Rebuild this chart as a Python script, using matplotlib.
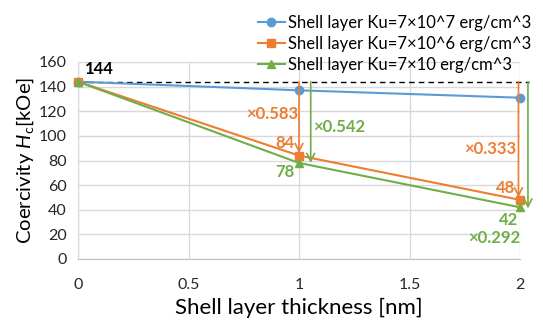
import matplotlib
matplotlib.use("Agg")
import matplotlib.pyplot as plt

plt.rcParams['font.family'] = ['Lato', 'DejaVu Sans']
plt.rcParams['mathtext.fontset'] = 'custom'
plt.rcParams['mathtext.it'] = 'Lato:italic'
plt.rcParams['mathtext.rm'] = 'Lato'

thickness = [0, 1, 2]
ku7 = [144, 137, 131]
ku6 = [144, 84, 48]
ku1 = [144, 78, 42]
labels = ["Shell layer Ku=7×10^7 erg/cm^3",
          "Shell layer Ku=7×10^6 erg/cm^3",
          "Shell layer Ku=7×10 erg/cm^3"]
ratio6 = ["×0.583", "×0.333"]
ratio1 = ["×0.542", "×0.292"]

BLUE = "#5B9BD5"
ORANGE = "#ED7D31"
GREEN = "#70AD47"

fig = plt.figure(figsize=(5.43, 3.2), dpi=100)
ax = fig.add_axes([78/543, 1-259/320, (520-78)/543, (259-62)/320])

ax.plot(thickness, ku7, color=BLUE, marker='o', ms=6, lw=1.5, label=labels[0], clip_on=False, zorder=5)
ax.plot(thickness, ku6, color=ORANGE, marker='s', ms=6, lw=1.5, label=labels[1], clip_on=False, zorder=5)
ax.plot(thickness, ku1, color=GREEN, marker='^', ms=6, lw=1.5, label=labels[2], clip_on=False, zorder=5)

ax.set_xlim(0, 2)
ax.set_ylim(0, 160)
ax.set_xticks([0, 0.5, 1, 1.5, 2])
ax.set_xticklabels(["0", "0.5", "1", "1.5", "2"])
ax.set_yticks(range(0, 161, 20))
ax.tick_params(length=0, labelsize=11.5, pad=8, colors='#262626')
ax.tick_params(axis='x', pad=14)
ax.grid(True, color='#d9d9d9', lw=1)
ax.set_axisbelow(True)
for s in ['top', 'right']:
    ax.spines[s].set_visible(False)
ax.spines['left'].set_color('#d9d9d9')
ax.spines['bottom'].set_color('#bfbfbf')

ax.set_xlabel("Shell layer thickness [nm]", fontsize=16, labelpad=4)
ax.set_ylabel(r"Coercivity $\mathit{H}_\mathrm{c}$[kOe]", fontsize=14.6, labelpad=2)

# dashed reference line
ax.plot([0, 2.04], [144, 144], color='black', ls=(0, (4, 3)), lw=1.0, clip_on=False, zorder=4)
ax.text(0.03, 147.5, "144", fontsize=12, fontweight='bold', color='black', va='bottom', ha='left')

def varrow(x, y0, y1, c):
    ax.annotate("", xy=(x, y1), xytext=(x, y0),
                arrowprops=dict(arrowstyle='->', color=c, lw=1.2, mutation_scale=14,
                                shrinkA=0, shrinkB=0),
                annotation_clip=False, zorder=6)

varrow(1.0, 144, 86, ORANGE)
varrow(1.053, 144, 78, GREEN)
varrow(1.993, 144, 50, ORANGE)
varrow(2.036, 144, 41, GREEN)

fs = 12
ax.text(0.995, 118, ratio6[0], color=ORANGE, fontsize=fs, fontweight='bold', ha='right', va='center')
ax.text(0.98, 94, str(ku6[1]), color=ORANGE, fontsize=fs, fontweight='bold', ha='right', va='center')
ax.text(0.98, 71, str(ku1[1]), color=GREEN, fontsize=fs, fontweight='bold', ha='right', va='center')
ax.text(1.063, 107, ratio1[0], color=GREEN, fontsize=fs, fontweight='bold', ha='left', va='center')
ax.text(1.985, 89, ratio6[1], color=ORANGE, fontsize=fs, fontweight='bold', ha='right', va='center')
ax.text(1.98, 58, str(ku6[2]), color=ORANGE, fontsize=fs, fontweight='bold', ha='right', va='center')
ax.text(1.95, 32, str(ku1[2]), color=GREEN, fontsize=fs, fontweight='bold', ha='center', va='center')
ax.text(2.0, 17, ratio1[1], color=GREEN, fontsize=fs, fontweight='bold', ha='right', va='center')

leg = fig.legend(loc='upper right', bbox_to_anchor=(538/543, 1-8/320), fontsize=12,
                 frameon=False, handlelength=1.6, labelspacing=0.3, handletextpad=0.2,
                 borderaxespad=0)

fig.savefig("out.png", dpi=100)
